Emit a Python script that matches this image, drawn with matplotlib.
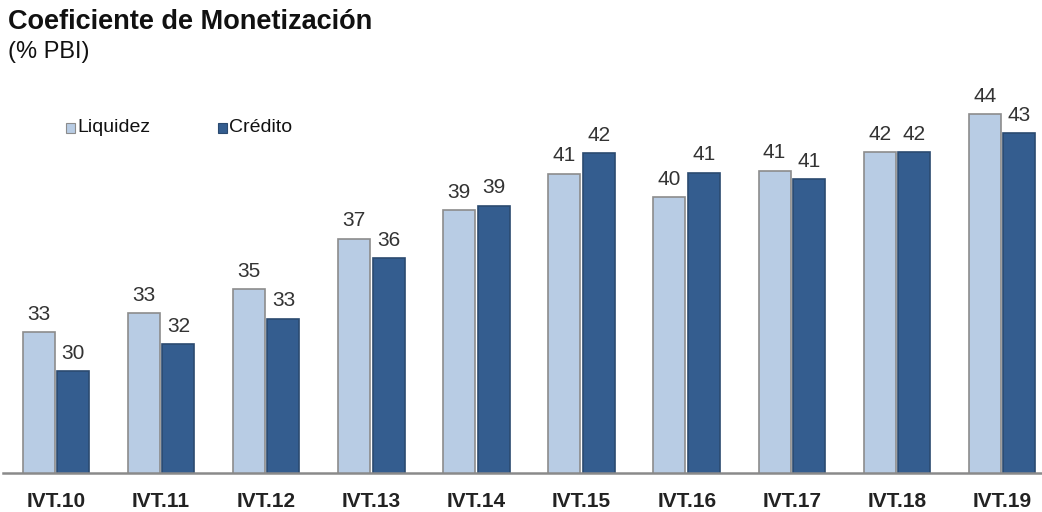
import numpy as np
import matplotlib.pyplot as plt
from matplotlib.patches import Rectangle

plt.rcParams['font.family'] = ['Liberation Sans', 'DejaVu Sans']

periodos = ["IVT.10", "IVT.11", "IVT.12", "IVT.13", "IVT.14",
            "IVT.15", "IVT.16", "IVT.17", "IVT.18", "IVT.19"]
# bar heights as drawn in the picture (% PBI)
liquidez = [32.1, 33.15, 34.45, 37.2, 38.75, 40.75, 39.45, 40.9, 41.9, 44.0]
credito = [30.0, 31.45, 32.85, 36.15, 39.0, 41.85, 40.8, 40.45, 41.9, 42.95]
# labels as printed on the chart
etiq_liquidez = ["33", "33", "35", "37", "39", "41", "40", "41", "42", "44"]
etiq_credito = ["30", "32", "33", "36", "39", "42", "41", "41", "42", "43"]

col_liq = "#B8CCE4"
col_cre = "#345D8F"

fig = plt.figure(figsize=(10.42, 5.12), dpi=100)
# axes: bottom at y=473px, top at y=90px, left 3px, right 1042px
ax = fig.add_axes([3 / 1042, (512 - 473) / 512, 1039 / 1042, 383 / 512])

x = np.arange(len(periodos))
w = 0.304
off = 0.164
b1 = ax.bar(x - off, liquidez, w, color=col_liq, edgecolor="#8c8c8c", linewidth=1.2)
b2 = ax.bar(x + off, credito, w, color=col_cre, edgecolor="#2b4a70", linewidth=1.2)

ax.set_ylim(24.44, 24.44 + 383 / 18.36)
ax.set_xlim(-0.504, 9.38)

for bars, vals, etiq in ((b1, liquidez, etiq_liquidez), (b2, credito, etiq_credito)):
    for r, v, t in zip(bars, vals, etiq):
        ax.annotate(t, (r.get_x() + r.get_width() / 2, v),
                    xytext=(0, 6), textcoords="offset points",
                    ha="center", va="bottom", fontsize=15, color="#333333")

for s in ["top", "right", "left"]:
    ax.spines[s].set_visible(False)
ax.spines["bottom"].set_color("#8a8a8a")
ax.spines["bottom"].set_linewidth(1.8)
ax.set_yticks([])
ax.set_xticks(x)
ax.set_xticklabels(periodos, fontsize=15, fontweight="bold", color="#222222")
ax.tick_params(axis="x", length=0, pad=14)

# legend
fig.patches.append(Rectangle((66 / 1042, 1 - 133 / 512), 9 / 1042, 10 / 512,
                             transform=fig.transFigure, facecolor=col_liq,
                             edgecolor="#8c8c8c", linewidth=0.8))
fig.text(77 / 1042, 1 - 128 / 512, "Liquidez", fontsize=14, va="center", color="#111111")
fig.patches.append(Rectangle((218 / 1042, 1 - 133 / 512), 9 / 1042, 10 / 512,
                             transform=fig.transFigure, facecolor=col_cre,
                             edgecolor="#2b4a70", linewidth=0.8))
fig.text(229 / 1042, 1 - 128 / 512, "Crédito", fontsize=14, va="center", color="#111111")

fig.text(8 / 1042, 1 - 22 / 512, "Coeficiente de Monetización", fontsize=19.5,
         fontweight="bold", va="center", color="#111111")
fig.text(8 / 1042, 1 - 52 / 512, "(% PBI)", fontsize=17, va="center", color="#111111")

fig.savefig("out.png", dpi=100)
